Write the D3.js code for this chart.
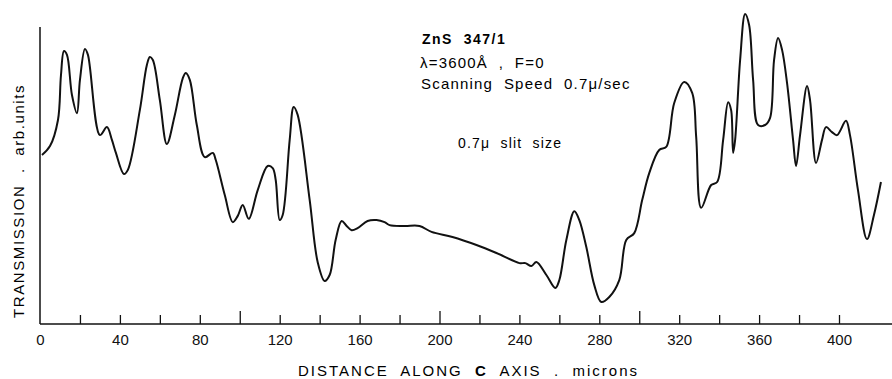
<!DOCTYPE html>
<html>
<head>
<meta charset="utf-8">
<script src="https://cdn.jsdelivr.net/npm/d3@7"></script>
<style>
  body { margin: 0; background: #fff; }
  svg { display: block; font-family: "Liberation Sans", Arial, sans-serif; }
  text { white-space: pre; }
</style>
</head>
<body>
<svg id="chart" width="892" height="379"></svg>
<script>
// distance along c axis (microns) and transmission (arb. units)
const distance = [1, 5, 9, 10.5, 12, 13.5, 16, 18.5, 20, 22.5, 24, 30, 33.5, 36, 38, 42, 44, 50, 53.5, 55, 56.5,
  60, 63.5, 67.5, 71.5, 73, 75, 78.5, 82.5, 86.5, 88, 92.5, 96.5, 99, 101.5, 104.5, 109, 114, 116.5, 118, 120,
  121.5, 125, 127, 129, 135, 139, 142.5, 145, 148, 151, 153.5, 156, 159, 164, 168.5, 172.5, 175, 182.5, 190,
  196, 206.5, 218.5, 228.5, 240, 243, 246, 248.5, 253.5, 258, 260, 263.5, 267.5, 270, 273.5, 277.5, 281, 285,
  290, 293.5, 297.5, 301.5, 305, 310, 313.5, 317.5, 322.5, 326.5, 328.5, 331, 336, 339, 342, 344.5, 346, 347,
  348, 350.5, 353, 355, 357, 359.5, 363, 365.5, 367.5, 369.5, 371.5, 374, 377, 378.5, 380.5, 384, 385.5, 388.5,
  391.5, 393.5, 396.5, 399, 403.5, 405.5, 409.5, 414, 417.5, 421];
const transmission = [56.9, 59.9, 68.7, 83.8, 91.9, 90.6, 77.1, 71.0, 82.2, 92.6, 90.6, 63.6, 66.3, 62.0, 57.6,
  50.5, 51.9, 72.1, 87.2, 89.9, 88.9, 75.4, 60.6, 70.4, 82.8, 84.5, 82.2, 67.0, 56.2, 57.6, 55.2, 43.4, 34.3,
  36.4, 40.1, 35.4, 45.1, 53.2, 52.5, 48.5, 35.0, 36.7, 62.0, 73.1, 70.4, 41.8, 20.9, 14.5, 16.5, 28.3, 34.7,
  33.0, 31.6, 32.3, 34.7, 35.0, 34.3, 33.3, 33.0, 33.0, 31.0, 29.3, 26.6, 23.9, 20.5, 20.5, 19.5, 20.9, 16.5,
  12.1, 14.8, 28.3, 38.0, 35.0, 25.9, 13.1, 7.4, 9.1, 14.8, 28.3, 30.6, 41.8, 50.8, 58.6, 59.6, 74.4, 81.5,
  77.8, 63.0, 39.1, 46.8, 47.8, 62.0, 74.7, 72.0, 57.6, 62.0, 88.9, 104.4, 100.7, 82.2, 67.0, 67.0, 69.4, 88.9,
  96.3, 92.3, 81.1, 62.0, 53.2, 63.6, 80.1, 75.4, 54.2, 62.0, 66.3, 64.6, 63.6, 68.4, 63.6, 45.1, 28.6, 36.7, 47.8];

const tickValues = d3.range(0, 401, 20);
const labelledTicks = [0, 40, 80, 120, 160, 200, 240, 280, 320, 360, 400];
const majorTicks = [100, 200, 300];

const annotation = ["ZnS  347/1", "\u03bb=3600\u00c5  ,  F=0", "Scanning  Speed  0.7\u03bc/sec", "0.7\u03bc  slit  size"];

const W = 892, H = 379;
const svg = d3.select("#chart");

const x = d3.scaleLinear().domain([0, 400]).range([40, 839]);
const y = d3.scaleLinear().domain([0, 100]).range([324, 27]);

// axis
const xAxis = d3.axisBottom(x)
  .tickValues(tickValues)
  .tickSizeInner(-9)
  .tickSizeOuter(0)
  .tickPadding(8)
  .tickFormat(d => labelledTicks.includes(d) ? d : "");

const gx = svg.append("g")
  .attr("transform", `translate(0,${y(0)})`)
  .call(xAxis);
gx.select(".domain").remove();
gx.selectAll(".tick line")
  .attr("stroke", "#111")
  .attr("stroke-width", 1.3)
  .attr("y2", d => d === 0 ? 0 : (majorTicks.includes(d) ? -13 : -9));
gx.selectAll(".tick text")
  .attr("y", 10)
  .attr("dy", "0.71em")
  .attr("fill", "#111")
  .style("font-size", "15px")
  .style("font-family", "\"Liberation Sans\", Arial, sans-serif");

svg.append("line")
  .attr("x1", x(0)).attr("x2", W)
  .attr("y1", y(0)).attr("y2", y(0))
  .attr("stroke", "#111").attr("stroke-width", 1.5);

svg.append("line")
  .attr("x1", x(0)).attr("x2", x(0))
  .attr("y1", y(0)).attr("y2", y(100))
  .attr("stroke", "#111").attr("stroke-width", 1.5);

// trace
const line = d3.line()
  .x((d, i) => x(distance[i]))
  .y(d => y(d))
  .curve(d3.curveCatmullRom.alpha(0.5));

svg.append("path")
  .datum(transmission)
  .attr("fill", "none")
  .attr("stroke", "#111")
  .attr("stroke-width", 2)
  .attr("stroke-linejoin", "round")
  .attr("d", line);

// annotation block
svg.append("text")
  .attr("x", 422).attr("y", 44)
  .style("font-size", "14px").style("font-weight", "bold")
  .style("letter-spacing", "1.5px")
  .text(annotation[0]);
svg.append("text")
  .attr("x", 420).attr("y", 68)
  .style("font-size", "15px")
  .style("letter-spacing", "1.2px")
  .text(annotation[1]);
svg.append("text")
  .attr("x", 421).attr("y", 89)
  .style("font-size", "15px")
  .style("letter-spacing", "1.2px")
  .text(annotation[2]);
svg.append("text")
  .attr("x", 458).attr("y", 148)
  .style("font-size", "14px")
  .style("letter-spacing", "1.2px")
  .text(annotation[3]);

// axis titles
const xt = svg.append("text")
  .attr("x", 298).attr("y", 376)
  .style("font-size", "15px")
  .style("letter-spacing", "2px");
xt.append("tspan").text("DISTANCE  ALONG  ");
xt.append("tspan").style("font-weight", "bold").text("C");
xt.append("tspan").text("  AXIS  .  microns");

svg.append("text")
  .attr("transform", "translate(24,318) rotate(-90)")
  .style("font-size", "15px")
  .style("letter-spacing", "1.6px")
  .text("TRANSMISSION  .  arb.units");
</script>
</body>
</html>
